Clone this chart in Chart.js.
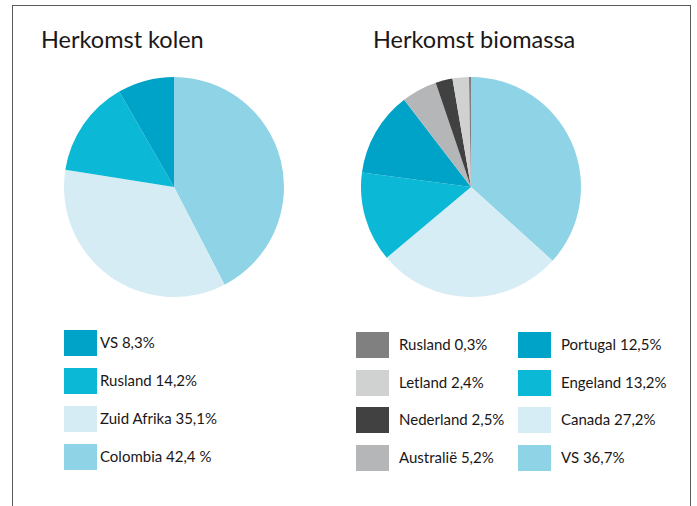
<!DOCTYPE html>
<html>
<head>
<meta charset="utf-8">
<script src="https://cdn.jsdelivr.net/npm/chart.js@4"></script>
<style>
  html, body { margin: 0; padding: 0; background: #fff; }
  body { width: 697px; height: 506px; position: relative; overflow: hidden; font-family: 'Lato', 'Open Sans', sans-serif; color: #1a1718; }
  .frame { position: absolute; left: 12px; top: 5px; width: 679px; height: 520px; border: 1.5px solid #5a5a5a; box-sizing: border-box; }
  .title { position: absolute; font-size: 23.5px; line-height: 1; white-space: nowrap; }
  .chart-box { position: absolute; width: 220px; height: 220px; }
  .legend-item { position: absolute; height: 26px; white-space: nowrap; font-size: 15px; }
  .legend-item .sw { position: absolute; left: 0; top: 0; width: 33px; height: 26px; }
  .legend-item .txt { position: absolute; top: 3px; }
</style>
</head>
<body>
<div class="frame"></div>
<div class="title" style="left:41px; top:28px;">Herkomst kolen</div>
<div class="title" style="left:373px; top:28px;">Herkomst biomassa</div>
<div class="chart-box" style="left:64px; top:77px;"><canvas id="kolen"></canvas></div>
<div class="chart-box" style="left:361px; top:77px;"><canvas id="biomassa"></canvas></div>
<div id="legends"></div>
<script>
// kolen, clockwise from top
const kolenLabels = ['Colombia', 'Zuid Afrika', 'Rusland', 'VS'];
const kolenValues = [42.4, 35.1, 14.2, 8.3];
const kolenLegend = ['Colombia 42,4 %', 'Zuid Afrika 35,1%', 'Rusland 14,2%', 'VS 8,3%'];
const kolenColors = ['#8fd3e6', '#d6ecf4', '#0bb8d6', '#00a3c8'];

// biomassa, clockwise from top
const bioLabels = ['VS', 'Canada', 'Engeland', 'Portugal', 'Australië', 'Nederland', 'Letland', 'Rusland'];
const bioValues = [36.7, 27.2, 13.2, 12.5, 5.2, 2.5, 2.4, 0.3];
const bioLegend = ['VS 36,7%', 'Canada 27,2%', 'Engeland 13,2%', 'Portugal 12,5%', 'Australië 5,2%', 'Nederland 2,5%', 'Letland 2,4%', 'Rusland 0,3%'];
const bioColors = ['#8fd3e6', '#d7edf5', '#0bb8d6', '#00a3c8', '#b5b6b8', '#414141', '#d0d1d1', '#808080'];

function makePie(id, labels, values, colors) {
    new Chart(document.getElementById(id), {
        type: 'pie',
        data: {
            labels: labels,
            datasets: [{
                data: values,
                backgroundColor: colors,
                borderWidth: 0
            }]
        },
        options: {
            responsive: true,
            maintainAspectRatio: false,
            animation: false,
            layout: { padding: 0 },
            plugins: {
                legend: { display: false },
                tooltip: { enabled: false }
            }
        }
    });
}

function addLegendItem(x, y, color, text, textDx) {
    const item = document.createElement('div');
    item.className = 'legend-item';
    item.style.left = x + 'px';
    item.style.top = y + 'px';
    item.innerHTML = `<div class="sw" style="background:${color}"></div><span class="txt" style="left:${textDx}px">${text}</span>`;
    document.getElementById('legends').appendChild(item);
}

makePie('kolen', kolenLabels, kolenValues, kolenColors);
makePie('biomassa', bioLabels, bioValues, bioColors);

// kolen legend: reversed order
kolenLegend.slice().reverse().forEach((t, i) => {
    const idx = kolenLegend.length - 1 - i;
    addLegendItem(64, 330 + i * 38, kolenColors[idx], t, 36);
});

// biomassa legend: two columns, reversed order
bioLegend.slice().reverse().forEach((t, i) => {
    const idx = bioLegend.length - 1 - i;
    const col = Math.floor(i / 4);
    const row = i % 4;
    addLegendItem(col === 0 ? 356 : 518, 332 + row * 37.5, bioColors[idx], t, 43);
});
</script>
</body>
</html>
